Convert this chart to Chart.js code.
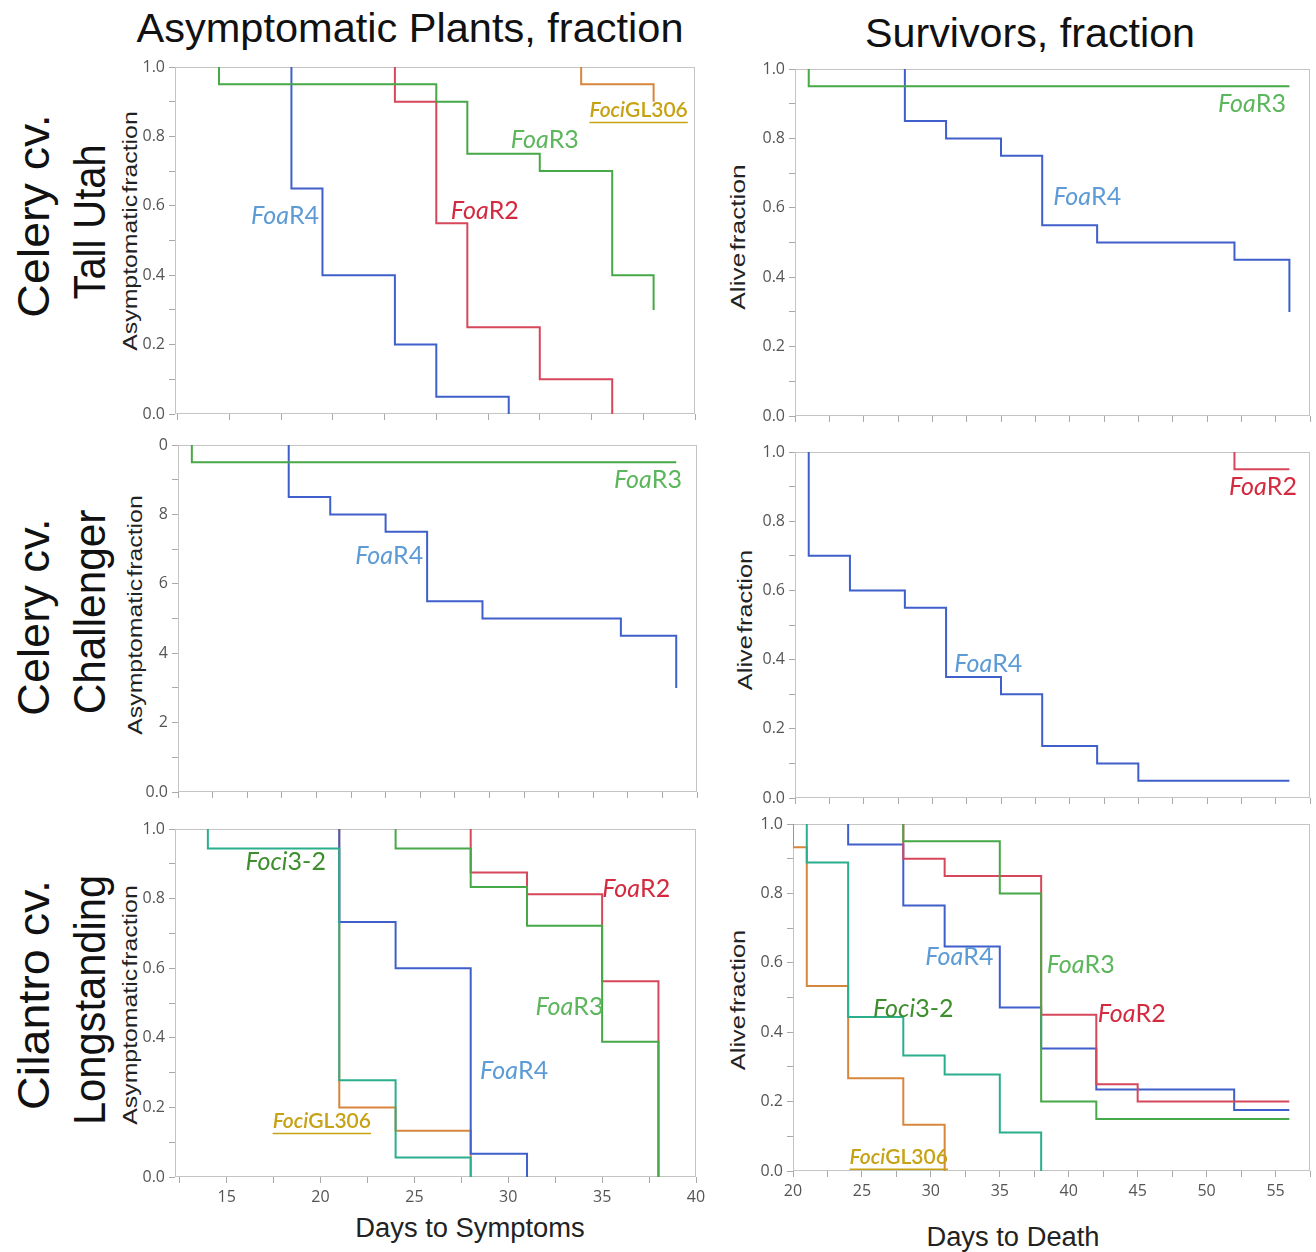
<!DOCTYPE html>
<html>
<head>
<meta charset="utf-8">
<title>Asymptomatic plants and survivors after Fusarium inoculation</title>
<script src="https://cdn.jsdelivr.net/npm/chart.js@4.4.0/dist/chart.umd.min.js"></script>
<style>
  html, body { margin: 0; padding: 0; background: #fff; }
  #page { position: relative; width: 1316px; height: 1252px; overflow: hidden;
          font-family: "Liberation Sans", Arial, sans-serif; color: #111; }
  .panel { position: absolute; }
  .txt { position: absolute; white-space: nowrap; line-height: 1; }
  .rot { transform: translate(-50%, -50%) rotate(-90deg); }
  .mid { transform: translate(-50%, -50%); }
  .big { font-size: 41px; }
  .row { font-size: 44px; }
  .ytitle { font-size: 21px; word-spacing: -4px; color: #222; }
  .xtitle { font-size: 27px; color: #222; }
</style>
</head>
<body>
<div id="page">
  <!-- data-len: length of the text in the source picture, used to fit it -->
  <div class="txt mid big" data-len="547" style="left:410px; top:28px;">Asymptomatic Plants, fraction</div>
  <div class="txt mid big" data-len="330" style="left:1030px; top:33px;">Survivors, fraction</div>

  <div class="txt rot row" data-len="203" style="left:34px; top:216px;">Celery cv.</div>
  <div class="txt rot row" data-len="155" style="left:90px; top:222px;">Tall Utah</div>
  <div class="txt rot row" data-len="197" style="left:34px; top:617px;">Celery cv.</div>
  <div class="txt rot row" data-len="205" style="left:90px; top:612px;">Challenger</div>
  <div class="txt rot row" data-len="230" style="left:34px; top:995px;">Cilantro cv.</div>
  <div class="txt rot row" data-len="250" style="left:90px; top:1000px;">Longstanding</div>

  <div class="txt rot ytitle" data-len="240" style="left:129px; top:231px;">Asymptomatic fraction</div>
  <div class="txt rot ytitle" data-len="240" style="left:134px; top:615px;">Asymptomatic fraction</div>
  <div class="txt rot ytitle" data-len="240" style="left:129px; top:1005px;">Asymptomatic fraction</div>
  <div class="txt rot ytitle" data-len="145" style="left:737px; top:237px;">Alive fraction</div>
  <div class="txt rot ytitle" data-len="140" style="left:744px; top:620px;">Alive fraction</div>
  <div class="txt rot ytitle" data-len="140" style="left:737px; top:1000px;">Alive fraction</div>

  <div class="txt mid xtitle" data-len="230" style="left:470px; top:1228px;">Days to Symptoms</div>
  <div class="txt mid xtitle" data-len="173" style="left:1013px; top:1237px;">Days to Death</div>
</div>

<script>
// ========================================================
// DATA - days at which the fraction steps down, and the new fraction
// (every curve starts at 1.0 on its first day)
// ========================================================

// Celery cv. Tall Utah - asymptomatic
const tuSymR3Days = [14, 35, 38, 45, 52, 56];
const tuSymR3 = [0.95, 0.90, 0.75, 0.70, 0.40, 0.30];
const tuSymR4Days = [21, 24, 31, 35, 42];
const tuSymR4 = [0.65, 0.40, 0.20, 0.05, 0.0];
const tuSymR2Days = [31, 35, 38, 45, 52];
const tuSymR2 = [0.90, 0.55, 0.25, 0.10, 0.0];
const tuSymGLDays = [49, 56];
const tuSymGL = [0.95, 0.90];

// Celery cv. Tall Utah - survivors
const tuSurR3Days = [21, 56];
const tuSurR3 = [0.95, 0.95];
const tuSurR4Days = [28, 31, 35, 38, 42, 52, 56];
const tuSurR4 = [0.85, 0.80, 0.75, 0.55, 0.50, 0.45, 0.30];

// Celery cv. Challenger - asymptomatic
const chSymR3Days = [21, 56];
const chSymR3 = [0.95, 0.95];
const chSymR4Days = [28, 31, 35, 38, 42, 52, 56];
const chSymR4 = [0.85, 0.80, 0.75, 0.55, 0.50, 0.45, 0.30];

// Celery cv. Challenger - survivors
const chSurR4Days = [21, 24, 28, 31, 35, 38, 42, 45, 56];
const chSurR4 = [0.70, 0.60, 0.55, 0.35, 0.30, 0.15, 0.10, 0.05, 0.05];
const chSurR2Days = [52, 56];
const chSurR2 = [0.95, 0.95];

// Cilantro cv. Longstanding - asymptomatic
const lsSymF32Days = [14, 21, 24, 28];
const lsSymF32 = [0.944, 0.278, 0.056, 0.0];
const lsSymR3Days = [24, 28, 31, 35, 38];
const lsSymR3 = [0.944, 0.833, 0.722, 0.389, 0.0];
const lsSymR2Days = [28, 31, 35, 38];
const lsSymR2 = [0.875, 0.8125, 0.5625, 0.0];
const lsSymR4Days = [21, 24, 28, 31];
const lsSymR4 = [0.733, 0.60, 0.067, 0.0];
const lsSymGLDays = [21, 24, 28];
const lsSymGL = [0.20, 0.133, 0.0];

// Cilantro cv. Longstanding - survivors
const lsSurF32Days = [21, 24, 28, 31, 35, 38];
const lsSurF32 = [0.889, 0.444, 0.333, 0.278, 0.111, 0.0];
const lsSurR3Days = [28, 35, 38, 42, 56];
const lsSurR3 = [0.95, 0.80, 0.20, 0.15, 0.15];
const lsSurR2Days = [28, 31, 38, 42, 45, 56];
const lsSurR2 = [0.90, 0.85, 0.45, 0.25, 0.20, 0.20];
const lsSurR4Days = [24, 28, 31, 35, 38, 42, 52, 56];
const lsSurR4 = [0.941, 0.765, 0.647, 0.471, 0.353, 0.235, 0.176, 0.176];
const lsSurGLDays = [20, 21, 24, 28, 31];
const lsSurGL = [0.933, 0.533, 0.267, 0.133, 0.0];

// axis tick labels
const fracTicks = ['0.0', '0.2', '0.4', '0.6', '0.8', '1.0'];
const fracTicksCropped = ['0.0', '2', '4', '6', '8', '0'];   // Challenger panel, labels cut off in source
const symptomDayTicks = [15, 20, 25, 30, 35, 40];
const deathDayTicks = [20, 25, 30, 35, 40, 45, 50, 55];

// ========================================================
// STYLE
// ========================================================
const BLUE = '#3f5fcb', GREEN = '#46a846', RED = '#d6475b', ORANGE = '#d8863c', TEAL = '#2aae8c';
const LBL_R3 = '#5cb65c', LBL_R4 = '#5c9bd6', LBL_R2 = '#d42a3f', LBL_GL = '#c7a214', LBL_F32 = '#3d8f2e';
const LABEL_FONT = 'Lato, "Open Sans", sans-serif';

Chart.defaults.font.family = '"Open Sans", "DejaVu Sans", sans-serif';

function steps(days, fracs) {
    const pts = [{ x: days[0], y: 1.0 }];
    days.forEach((d, i) => pts.push({ x: d, y: fracs[i] }));
    return pts;
}

function series(days, fracs, color) {
    return {
        data: steps(days, fracs),
        borderColor: color,
        borderWidth: 2,
        stepped: true,
        pointRadius: 0,
        fill: false
    };
}

// tick marks at every multiple of the step inside the axis range
function tickValues(min, max, step) {
    const out = [];
    for (let v = Math.ceil(min / step - 1e-9) * step; v <= max + 1e-9; v += step) {
        out.push({ value: Math.round(v * 100) / 100 });
    }
    return out;
}

// little strain labels ("Foa" italic + race) inside the plots
function labelPlugin(items) {
    return {
        id: 'strainLabels',
        afterDatasetsDraw(chart) {
            const ctx = chart.ctx;
            items.forEach(it => {
                const size = it.size || 25;
                const weight = it.underline ? '600 ' : '';
                const x = chart.scales.x.getPixelForValue(it.day);
                const y = chart.scales.y.getPixelForValue(it.frac);
                ctx.save();
                ctx.fillStyle = it.color;
                ctx.textBaseline = 'middle';
                ctx.font = 'italic ' + weight + size + 'px ' + LABEL_FONT;
                ctx.fillText(it.pre, x, y);
                const w1 = ctx.measureText(it.pre).width;
                ctx.font = weight + size + 'px ' + LABEL_FONT;
                ctx.fillText(it.post, x + w1, y);
                const w2 = ctx.measureText(it.post).width;
                if (it.underline) {
                    ctx.strokeStyle = it.color;
                    ctx.lineWidth = 1.5;
                    ctx.beginPath();
                    ctx.moveTo(x, y + size * 0.58);
                    ctx.lineTo(x + w1 + w2, y + size * 0.58);
                    ctx.stroke();
                }
                ctx.restore();
            });
        }
    };
}

const framePlugin = {
    id: 'frame',
    beforeDatasetsDraw(chart) {
        const a = chart.chartArea, ctx = chart.ctx;
        ctx.save();
        ctx.strokeStyle = '#c4c4c4';
        ctx.lineWidth = 1;
        ctx.strokeRect(a.left + 0.5, a.top + 0.5, a.right - a.left - 1, a.bottom - a.top - 1);
        ctx.restore();
    }
};

// ========================================================
// PANELS
// ========================================================
const panels = [
    {   // Tall Utah, symptoms
        box: [175, 67, 520, 347], xMin: 9.75, xMax: 60, xStep: 5, xLabels: null, yLabels: fracTicks,
        datasets: [
            series(tuSymR3Days, tuSymR3, GREEN),
            series(tuSymR2Days, tuSymR2, RED),
            series(tuSymR4Days, tuSymR4, BLUE),
            series(tuSymGLDays, tuSymGL, ORANGE)
        ],
        labels: [
            { pre: 'Foci', post: 'GL306', day: 49.8, frac: 0.875, color: LBL_GL, underline: true, size: 21 },
            { pre: 'Foa', post: 'R3', day: 42.2, frac: 0.79, color: LBL_R3 },
            { pre: 'Foa', post: 'R4', day: 17.1, frac: 0.57, color: LBL_R4 },
            { pre: 'Foa', post: 'R2', day: 36.4, frac: 0.585, color: LBL_R2 }
        ]
    },
    {   // Tall Utah, survivors
        box: [795, 69, 515, 347], xMin: 20, xMax: 57.5, xStep: 2.5, xLabels: null, yLabels: fracTicks,
        datasets: [
            series(tuSurR3Days, tuSurR3, GREEN),
            series(tuSurR4Days, tuSurR4, BLUE)
        ],
        labels: [
            { pre: 'Foa', post: 'R3', day: 50.8, frac: 0.90, color: LBL_R3 },
            { pre: 'Foa', post: 'R4', day: 38.8, frac: 0.63, color: LBL_R4 }
        ]
    },
    {   // Challenger, symptoms
        box: [178, 445, 519, 347], xMin: 20, xMax: 57.5, xStep: 2.5, xLabels: null, yLabels: fracTicksCropped,
        datasets: [
            series(chSymR3Days, chSymR3, GREEN),
            series(chSymR4Days, chSymR4, BLUE)
        ],
        labels: [
            { pre: 'Foa', post: 'R3', day: 51.5, frac: 0.90, color: LBL_R3 },
            { pre: 'Foa', post: 'R4', day: 32.8, frac: 0.68, color: LBL_R4 }
        ]
    },
    {   // Challenger, survivors
        box: [795, 452, 515, 346], xMin: 20, xMax: 57.5, xStep: 2.5, xLabels: null, yLabels: fracTicks,
        datasets: [
            series(chSurR2Days, chSurR2, RED),
            series(chSurR4Days, chSurR4, BLUE)
        ],
        labels: [
            { pre: 'Foa', post: 'R2', day: 51.6, frac: 0.90, color: LBL_R2 },
            { pre: 'Foa', post: 'R4', day: 31.6, frac: 0.387, color: LBL_R4 }
        ]
    },
    {   // Longstanding, symptoms
        box: [175, 829, 521, 348], xMin: 12.25, xMax: 40, xStep: 2.5, xLabels: symptomDayTicks, yLabels: fracTicks,
        datasets: [
            series(lsSymF32Days, lsSymF32, TEAL),
            series(lsSymR3Days, lsSymR3, GREEN),
            series(lsSymR2Days, lsSymR2, RED),
            series(lsSymR4Days, lsSymR4, BLUE),
            series(lsSymGLDays, lsSymGL, ORANGE)
        ],
        labels: [
            { pre: 'Foci', post: '3-2', day: 16.0, frac: 0.905, color: LBL_F32 },
            { pre: 'Foa', post: 'R2', day: 35.0, frac: 0.828, color: LBL_R2 },
            { pre: 'Foa', post: 'R3', day: 31.45, frac: 0.49, color: LBL_R3 },
            { pre: 'Foa', post: 'R4', day: 28.5, frac: 0.305, color: LBL_R4 },
            { pre: 'Foci', post: 'GL306', day: 17.45, frac: 0.16, color: LBL_GL, underline: true, size: 21 }
        ]
    },
    {   // Longstanding, survivors
        box: [793, 824, 517, 347], xMin: 20, xMax: 57.5, xStep: 2.5, xLabels: deathDayTicks, yLabels: fracTicks,
        datasets: [
            series(lsSurF32Days, lsSurF32, TEAL),
            series(lsSurR3Days, lsSurR3, GREEN),
            series(lsSurR2Days, lsSurR2, RED),
            series(lsSurR4Days, lsSurR4, BLUE),
            series(lsSurGLDays, lsSurGL, ORANGE)
        ],
        labels: [
            { pre: 'Foa', post: 'R4', day: 29.6, frac: 0.617, color: LBL_R4 },
            { pre: 'Foa', post: 'R3', day: 38.4, frac: 0.594, color: LBL_R3 },
            { pre: 'Foci', post: '3-2', day: 25.8, frac: 0.467, color: LBL_F32 },
            { pre: 'Foa', post: 'R2', day: 42.1, frac: 0.452, color: LBL_R2 },
            { pre: 'Foci', post: 'GL306', day: 24.1, frac: 0.04, color: LBL_GL, underline: true, size: 21 }
        ]
    }
];

const Y_AXIS_W = 70, PAD_TOP = 16, PAD_RIGHT = 16;
const page = document.getElementById('page');

panels.forEach(p => {
    const [l, t, w, h] = p.box;
    const bottomH = p.xLabels ? 38 : 16;
    const canvas = document.createElement('canvas');
    canvas.className = 'panel';
    canvas.width = w + Y_AXIS_W + PAD_RIGHT;
    canvas.height = h + PAD_TOP + bottomH;
    canvas.style.left = (l - Y_AXIS_W) + 'px';
    canvas.style.top = (t - PAD_TOP) + 'px';
    canvas.style.width = canvas.width + 'px';
    canvas.style.height = canvas.height + 'px';
    page.appendChild(canvas);

    const gridStyle = { drawOnChartArea: false, color: '#a9a9a9', tickLength: 6 };
    const tickFont = { family: '"Open Sans", "DejaVu Sans", sans-serif', size: 16 };

    new Chart(canvas.getContext('2d'), {
        type: 'line',
        data: { datasets: p.datasets },
        options: {
            responsive: false,
            animation: false,
            devicePixelRatio: 1,
            layout: { padding: { top: PAD_TOP, right: PAD_RIGHT, left: 0, bottom: 0 } },
            plugins: { legend: { display: false }, tooltip: { enabled: false } },
            scales: {
                x: {
                    type: 'linear', min: p.xMin, max: p.xMax,
                    border: { display: false },
                    grid: gridStyle,
                    ticks: {
                        autoSkip: false, maxRotation: 0, padding: 5,
                        color: '#555', font: tickFont,
                        callback: (v) => (p.xLabels && p.xLabels.includes(v)) ? String(v) : ''
                    },
                    afterBuildTicks: (s) => { s.ticks = tickValues(p.xMin, p.xMax, p.xStep); },
                    afterFit: (s) => { s.height = bottomH; }
                },
                y: {
                    min: 0, max: 1,
                    border: { display: false },
                    grid: gridStyle,
                    ticks: {
                        stepSize: 0.1, autoSkip: false, padding: 4,
                        color: '#555', font: tickFont,
                        callback: (v) => {
                            const k = Math.round(v * 10);
                            return k % 2 === 0 ? p.yLabels[k / 2] : '';
                        }
                    },
                    afterFit: (s) => { s.width = Y_AXIS_W; }
                }
            }
        },
        plugins: [framePlugin, labelPlugin(p.labels)]
    });
});

// ========================================================
// FIT HTML TEXT TO THE LENGTHS SEEN IN THE SOURCE
// ========================================================
function fitTexts() {
    document.querySelectorAll('[data-len]').forEach(el => {
        const k = parseFloat(el.dataset.len) / el.offsetWidth;
        const rot = el.classList.contains('rot') ? ' rotate(-90deg)' : '';
        el.style.transform = 'translate(-50%, -50%)' + rot + ' scaleX(' + k.toFixed(3) + ')';
    });
}
fitTexts();
if (document.fonts && document.fonts.ready) document.fonts.ready.then(fitTexts);
</script>
</body>
</html>
